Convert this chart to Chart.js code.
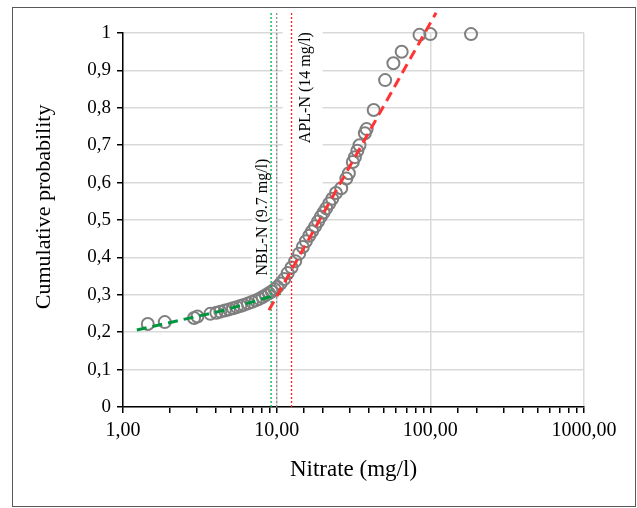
<!DOCTYPE html>
<html>
<head>
<meta charset="utf-8">
<script src="https://cdn.jsdelivr.net/npm/chart.js@4.4.0/dist/chart.umd.min.js"></script>
<style>
html,body{margin:0;padding:0;background:#fff}
</style>
</head>
<body>
<canvas id="chart" width="637" height="508"></canvas>
<script>
// nitrate samples (mg/l) and their cumulative probability
var nitrate = [1.45,1.87,2.9,3.05,3.7,4.05,4.3,4.6,4.9,5.2,5.5,5.8,6.1,6.5,6.9,7.3,7.7,8.1,8.5,8.9,9.3,9.7,10.1,10.6,
	11.2,11.8,12.5,13.2,14,14.8,15.5,16.3,17,17.8,18.6,19.4,20.2,21,22,23,24.3,
	26.3,28.4,29.5,31.3,32.3,33.5,34.6,37.5,38.5,42.8,50.8,57.5,65.1,85,100,184];
var cumProb = [0.222,0.227,0.238,0.242,0.249,0.252,0.255,0.258,0.261,0.264,0.267,0.27,0.273,0.277,0.281,0.285,0.289,0.294,0.299,0.304,0.309,0.315,0.321,0.33,
	0.342,0.358,0.373,0.39,0.41,0.428,0.443,0.458,0.47,0.483,0.496,0.509,0.52,0.531,0.544,0.557,0.572,
	0.585,0.611,0.625,0.655,0.668,0.685,0.7,0.732,0.743,0.794,0.874,0.919,0.95,0.995,0.997,0.997];

// fitted lines
var nblFitX = [1.23, 4.6, 10.6];
var nblFitY = [0.206, 0.259, 0.304];
var aplFitX = [8.9, 109];
var aplFitY = [0.259, 1.054];

// threshold lines
var nblLine = 9.2;
var refLine = 10;
var aplLine = 12.5;
var lineTop = 1.056;

var yTicks = [0,0.1,0.2,0.3,0.4,0.5,0.6,0.7,0.8,0.9,1];
var yTickLabels = ['0','0,1','0,2','0,3','0,4','0,5','0,6','0,7','0,8','0,9','1'];
var xTickValues = [1,10,100,1000];
var xTickLabels = ['1,00','10,00','100,00','1000,00'];

function pts(xs, ys) {
	var out = [];
	for (var i = 0; i < xs.length; i++) out.push({x: xs[i], y: ys[i]});
	return out;
}
function vline(v) {
	return [{x: v, y: 0}, {x: v, y: lineTop}];
}
function isDecade(v) {
	var l = Math.log10(v);
	return Math.abs(l - Math.round(l)) < 1e-9;
}

var serif = '"Liberation Serif", "Times New Roman", serif';

var decor = {
	id: 'decor',
	beforeDraw: function(chart) {
		var c = chart.ctx;
		c.save();
		c.fillStyle = '#fff';
		c.fillRect(0, 0, chart.width, chart.height);
		c.strokeStyle = '#595959';
		c.lineWidth = 1;
		c.strokeRect(12.5, 7.5, 623, 499);
		c.restore();
	},
	beforeDatasetsDraw: function(chart) {
		var c = chart.ctx;
		var xs = chart.scales.x, ys = chart.scales.y;
		var xn = xs.getPixelForValue(nblLine);
		var xa = xs.getPixelForValue(aplLine);
		c.save();
		// white text boxes
		c.fillStyle = '#fff';
		c.fillRect(xn - 19, ys.getPixelForValue(0.69), 24, ys.getPixelForValue(0.33) - ys.getPixelForValue(0.69));
		c.fillRect(xa - 9, ys.getPixelForValue(1.03), 40, ys.getPixelForValue(0.45) - ys.getPixelForValue(1.03));
		c.fillStyle = '#000';
		c.font = '16px ' + serif;
		c.textAlign = 'center';
		c.textBaseline = 'middle';
		c.translate(xn - 8, ys.getPixelForValue(0.508));
		c.rotate(-Math.PI / 2);
		c.fillText('NBL-N (9.7 mg/l)', 0, 0);
		c.restore();
		c.save();
		c.fillStyle = '#000';
		c.font = '16px ' + serif;
		c.textAlign = 'center';
		c.textBaseline = 'middle';
		c.translate(xa + 14, ys.getPixelForValue(0.854));
		c.rotate(-Math.PI / 2);
		c.fillText('APL-N (14 mg/l)', 0, 0);
		c.restore();
		// y axis title
		c.save();
		c.fillStyle = '#000';
		c.font = '22px ' + serif;
		c.textAlign = 'center';
		c.textBaseline = 'middle';
		c.translate(44, ys.getPixelForValue(0.535));
		c.rotate(-Math.PI / 2);
		c.fillText('Cumulative probability', 0, 0);
		c.restore();
	}
};

var chart = new Chart(document.getElementById('chart'), {
	type: 'scatter',
	data: {
		datasets: [
			{
				label: 'APL fit',
				data: pts(aplFitX, aplFitY),
				showLine: true,
				borderColor: '#ff3333',
				borderWidth: 3,
				borderDash: [10, 6],
				pointRadius: 0,
				clip: false,
				order: 1
			},
			{
				label: 'NBL fit',
				data: pts(nblFitX, nblFitY),
				showLine: true,
				borderColor: '#00963f',
				borderWidth: 3,
				borderDash: [10, 6],
				pointRadius: 0,
				clip: false,
				order: 2
			},
			{
				label: 'NBL-N',
				data: vline(nblLine),
				showLine: true,
				borderColor: '#00b050',
				borderWidth: 1.3,
				borderDash: [2, 2],
				pointRadius: 0,
				clip: false,
				order: 3
			},
			{
				label: 'ref',
				data: vline(refLine),
				showLine: true,
				borderColor: '#909090',
				borderWidth: 1.3,
				borderDash: [2, 2],
				pointRadius: 0,
				clip: false,
				order: 3
			},
			{
				label: 'APL-N',
				data: vline(aplLine),
				showLine: true,
				borderColor: '#ff2020',
				borderWidth: 1.3,
				borderDash: [2, 2],
				pointRadius: 0,
				clip: false,
				order: 3
			},
			{
				label: 'Nitrate',
				data: pts(nitrate, cumProb),
				pointStyle: 'circle',
				pointRadius: 6,
				borderColor: '#7f7f7f',
				borderWidth: 2,
				backgroundColor: 'transparent',
				clip: false,
				order: 5
			}
		]
	},
	options: {
		responsive: false,
		animation: false,
		devicePixelRatio: 1,
		layout: { padding: { left: 0, top: 33, right: 53, bottom: 0 } },
		plugins: {
			legend: { display: false },
			tooltip: { enabled: false }
		},
		scales: {
			x: {
				type: 'logarithmic',
				position: 'bottom',
				min: 1,
				max: 1000,
				afterFit: function(s) { s.height = 101; },
				border: { color: '#000', width: 1.5 },
				grid: {
					color: function(ctx) { return ctx.tick && isDecade(ctx.tick.value) ? '#d9d9d9' : 'rgba(0,0,0,0)'; },
					lineWidth: 1.5,
					tickColor: '#000',
					tickWidth: 1.5,
					tickLength: 6
				},
				ticks: {
					autoSkip: false,
					maxRotation: 0,
					color: '#000',
					padding: 6,
					font: { family: serif, size: 20 },
					callback: function(v) {
						var i = xTickValues.indexOf(v);
						return i >= 0 ? xTickLabels[i] : '';
					}
				},
				title: {
					display: true,
					text: 'Nitrate (mg/l)',
					color: '#000',
					font: { family: serif, size: 23 },
					padding: { top: 0, bottom: 24 }
				}
			},
			y: {
				min: 0,
				max: 1,
				afterFit: function(s) { s.width = 123; },
				afterBuildTicks: function(s) { s.ticks = yTicks.map(function(v) { return {value: v}; }); },
				border: { color: '#000', width: 1.5 },
				grid: {
					color: '#d9d9d9',
					lineWidth: 1.5,
					tickColor: '#000',
					tickWidth: 1.5,
					tickLength: 6
				},
				ticks: {
					color: '#000',
					padding: 6,
					font: { family: serif, size: 19 },
					callback: function(v) {
						var i = yTicks.indexOf(v);
						return i >= 0 ? yTickLabels[i] : '';
					}
				}
			}
		}
	},
	plugins: [decor]
});
</script>
</body>
</html>
